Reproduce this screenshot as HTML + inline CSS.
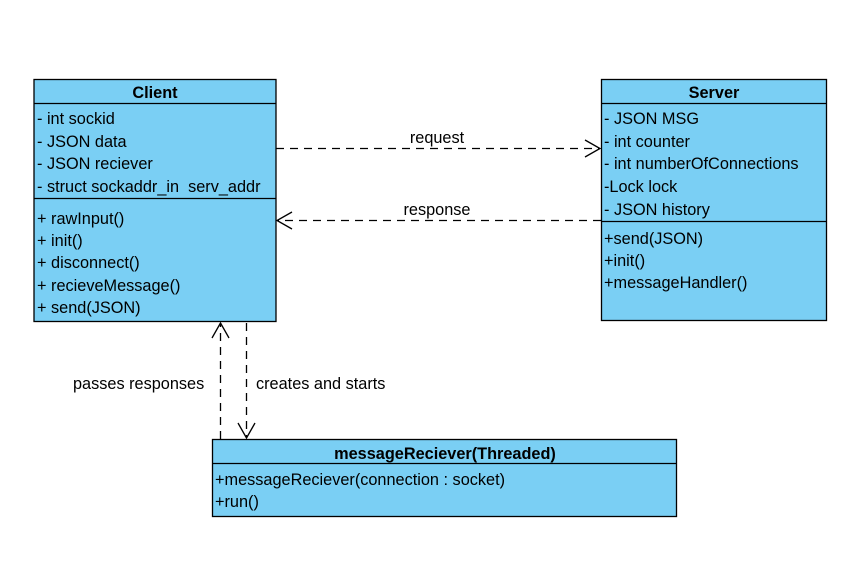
<!DOCTYPE html>
<html><head><meta charset="utf-8"><style>
html,body{margin:0;padding:0;background:#fff;}
svg{display:block;font-family:"Liberation Sans",Arial,sans-serif;font-size:16.3px;}
</style></head><body>
<svg width="864" height="561" viewBox="0 0 864 561" xmlns="http://www.w3.org/2000/svg">
<rect x="0" y="0" width="864" height="561" fill="#fff"/>
<g fill="#7acff4" stroke="#000" stroke-width="1.3">
<rect x="34" y="79.5" width="242" height="242"/>
<line x1="34" y1="103.5" x2="276" y2="103.5"/>
<line x1="34" y1="198.5" x2="276" y2="198.5"/>
<rect x="601.5" y="79.5" width="225" height="241"/>
<line x1="601.5" y1="103.5" x2="826.5" y2="103.5"/>
<line x1="601.5" y1="221.5" x2="826.5" y2="221.5"/>
<rect x="212.5" y="439.5" width="464" height="77"/>
<line x1="212.5" y1="463.5" x2="676.5" y2="463.5"/>
</g>
<g fill="#000">
<text x="155" y="98" text-anchor="middle" font-weight="bold">Client</text>
<text x="37" y="124">- int sockid</text>
<text x="37" y="147">- JSON data</text>
<text x="37" y="169">- JSON reciever</text>
<text x="37" y="192" xml:space="preserve">- struct sockaddr_in  serv_addr</text>
<text x="37" y="224">+ rawInput()</text>
<text x="37" y="246">+ init()</text>
<text x="37" y="268">+ disconnect()</text>
<text x="37" y="291">+ recieveMessage()</text>
<text x="37" y="313">+ send(JSON)</text>
<text x="714" y="98" text-anchor="middle" font-weight="bold">Server</text>
<text x="604" y="124">- JSON MSG</text>
<text x="604" y="147">- int counter</text>
<text x="604" y="169">- int numberOfConnections</text>
<text x="604" y="192">-Lock lock</text>
<text x="604" y="215">- JSON history</text>
<text x="604" y="244">+send(JSON)</text>
<text x="604" y="266">+init()</text>
<text x="604" y="288">+messageHandler()</text>
<text x="445" y="459" text-anchor="middle" font-weight="bold">messageReciever(Threaded)</text>
<text x="215" y="485">+messageReciever(connection : socket)</text>
<text x="215" y="507">+run()</text>
<text x="437" y="143" text-anchor="middle">request</text>
<text x="437" y="215" text-anchor="middle">response</text>
<text x="73" y="389">passes responses</text>
<text x="256" y="389">creates and starts</text>
</g>
<g stroke="#000" stroke-width="1.3" fill="none">
<line x1="276" y1="148.5" x2="600" y2="148.5" stroke-dasharray="8,6"/>
<polyline points="585,140 600,148.5 585,157"/>
<line x1="601" y1="220.5" x2="278" y2="220.5" stroke-dasharray="8,6"/>
<polyline points="292,212 277,220.5 292,229"/>
<line x1="220.5" y1="439" x2="220.5" y2="323" stroke-dasharray="8,6"/>
<polyline points="212,338 220.5,323 229,338"/>
<line x1="246.5" y1="323" x2="246.5" y2="438" stroke-dasharray="8,6"/>
<polyline points="238,423 246.5,438 255,423"/>
</g>
</svg>
</body></html>
